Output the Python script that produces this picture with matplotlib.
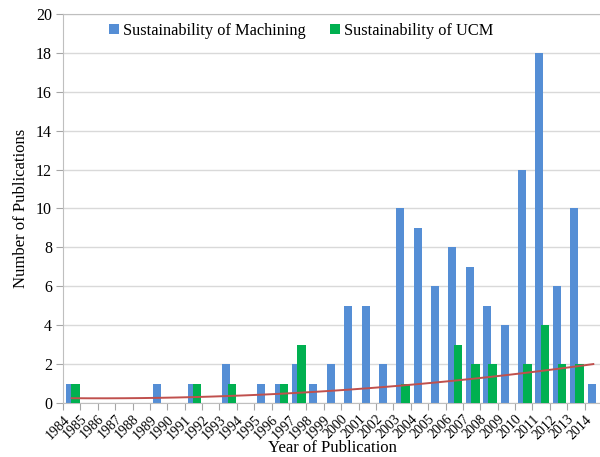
import matplotlib
matplotlib.use('Agg')
import matplotlib.pyplot as plt
import numpy as np

plt.rcParams['font.family'] = ['Liberation Serif', 'DejaVu Serif']

years = list(range(1984, 2015))
machining = [1, 0, 0, 0, 0, 1, 0, 1, 0, 2, 0, 1, 1, 2, 1, 2, 5, 5, 2, 10,
             9, 6, 8, 7, 5, 4, 12, 18, 6, 10, 1]
ucm = [1, 0, 0, 0, 0, 0, 0, 1, 0, 1, 0, 0, 1, 3, 0, 0, 0, 0, 0, 1,
       0, 0, 3, 2, 2, 0, 2, 4, 2, 2, 0]

idx = np.arange(len(years))

fig = plt.figure(figsize=(6.0, 4.57), dpi=100)
ax = fig.add_axes([63 / 600, 54 / 457, 539 / 600, 389 / 457])

w = 0.46
ax.bar(idx + 0.40, machining, width=w, color='#558ED5', zorder=2,
       label='Sustainability of Machining')
ax.bar(idx + 0.71, ucm, width=w + 0.03, color='#00B050', zorder=3,
       label='Sustainability of UCM')

# polynomial (order 2) trendline of UCM series
coef = np.polyfit(idx, ucm, 2)
ax.plot(idx + 0.5, np.polyval(coef, idx), color='#C0504D', lw=1.4, zorder=4)

ax.set_xlim(0, len(years))
ax.set_ylim(0, 20)
ax.set_yticks(range(0, 21, 2))
ax.grid(axis='y', color='#D9D9D9', lw=1, zorder=0)

ax.set_xticks(range(len(years) + 1))
ax.set_xticklabels([str(y) for y in years] + [''], rotation=45,
                   ha='right', rotation_mode='anchor', fontsize=10)
ax.tick_params(axis='x', length=5, color='#A6A6A6', pad=2)
ax.tick_params(axis='y', length=5, color='#A6A6A6', labelsize=11.5, pad=3)

for s in ['left', 'bottom', 'top']:
    ax.spines[s].set_color('#BFBFBF')
ax.spines['right'].set_visible(False)

ax.set_xlabel('Year of Publication', fontsize=12, labelpad=-1)
ax.set_ylabel('Number of Publications', fontsize=12, labelpad=5)

ax.legend(loc='center', bbox_to_anchor=(301 / 600, 1 - 31 / 457),
          bbox_transform=fig.transFigure, ncol=2, frameon=False,
          fontsize=11.75, handlelength=0.6, handleheight=0.6,
          handletextpad=0.25, columnspacing=1.5)

fig.savefig('out.png', dpi=100)
